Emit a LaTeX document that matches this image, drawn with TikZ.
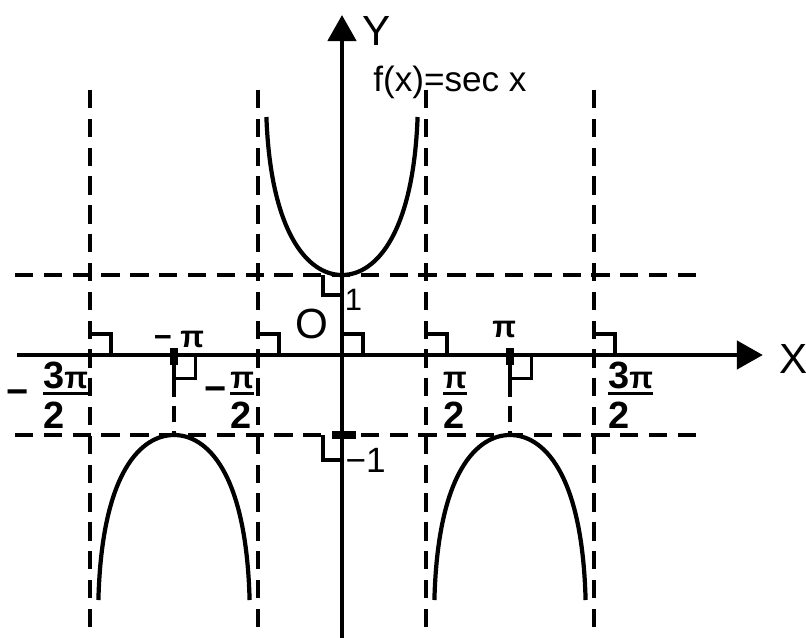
\documentclass[tikz,border=0pt]{standalone}
\usepackage{fontspec}
\setmainfont{Liberation Sans}
\usetikzlibrary{arrows.meta}
\newcommand{\smallpi}{{\fontsize{22}{22}\selectfont π}}
\newcommand{\fracstack}[2]{\vtop{\hbox{#1}\kern2.5pt\hrule height 2pt\kern5.3pt\hbox{#2}}}

\begin{document}
\begin{tikzpicture}[x=2.1cm, y=2cm,
  axis/.style={line width=3pt, -{Triangle[length=18.5pt, width=20pt]}},
  guide/.style={line width=2.7pt, dash pattern=on 13pt off 7.5pt},
  thinguide/.style={line width=2.3pt, dash pattern=on 12pt off 6pt},
  branch/.style={line width=3pt},
  corner/.style={line width=2.2pt},
  bigtick/.style={line width=5pt},
  big/.style={font=\fontsize{30}{36}\selectfont, inner sep=0pt},
  fn/.style={font=\fontsize{25}{30}\selectfont, inner sep=0pt},
  num/.style={font=\fontsize{22}{26}\selectfont, inner sep=0pt},
  fracnum/.style={font=\bfseries\fontsize{27}{30}\selectfont, inner sep=0pt}]
  \useasboundingbox (-4.0714,-3.525) rectangle (5.5238,4.4375);
  \fill[white] (-4.0714,-3.525) rectangle (5.5238,4.4375);

  % guide lines
  \foreach \k in {-3,-1,1,3}
    \draw[guide] (\k,3.3125) -- (\k,-3.525);
  \draw[guide] (-3.893,1) -- (4.26,1);
  \draw[guide] (-3.893,-1) -- (4.26,-1);
  \foreach \k in {-2,2}
    \draw[thinguide] (\k,0) -- (\k,-1);

  % axes
  \coordinate (xl) at (-3.87,0);
  \coordinate (xr) at (5.01,0);
  \coordinate (yb) at (0,-3.6);
  \coordinate (yt) at (0,4.25);
  \draw[axis] (xl) -- (xr);
  \draw[axis] (yb) -- (yt);

  % right-angle marks
  \foreach \k in {-3,-1,0,1,3}
    \draw[corner] (\k,0.375) -- (\k,0.2625) -- (\k+0.25,0.2625) -- (\k+0.25,0);
  \foreach \k in {-2,2} {
    \draw[corner] (\k,0) -- (\k,-0.29) -- (\k+0.26,-0.29) -- (\k+0.26,0);
    \draw[bigtick] (\k,0.0875) -- (\k,-0.125);
  }
  \draw[corner] (-0.226,1) -- (-0.226,0.75) -- (0,0.75);
  \draw[corner] (-0.226,-1) -- (-0.226,-1.3125) -- (0,-1.3125);
  \draw[bigtick] (-0.12,-1) -- (0.165,-1);

  % branches of sec x
  \draw[branch] (-0.9,2.975) .. controls (-0.85,1.55) and (-0.42,1) .. (0,1)
    .. controls (0.42,1) and (0.85,1.55) .. (0.9,2.975);
  \foreach \c in {-2,2}
    \draw[branch] (\c-0.9,-3.0625) .. controls (\c-0.86,-1.44) and (\c-0.38,-1) .. (\c,-1)
      .. controls (\c+0.38,-1) and (\c+0.86,-1.44) .. (\c+0.9,-3.0625);

  % labels
  \node[big, anchor=base west] (ylab) at (0.238,3.875) {Y};
  \node[big, anchor=base west] (xlab) at (5.2,-0.225) {X};
  \node[fn, anchor=base west] (flab) at (0.369,3.3) {f(x)=sec x};
  \node[big, anchor=base west] (olab) at (-0.56,0.2125) {O};
  \node[num, anchor=base west] (onelab) at (0.03,0.5625) {1};
  \node[num, font=\fontsize{25}{30}\selectfont, anchor=base west] (monelab) at (0.04,-1.4625) {−1};
  \node[fracnum, font=\bfseries\fontsize{22}{22}\selectfont, anchor=base] (mpilab) at (-1.94,0.1) {− π};
  \node[fracnum, font=\bfseries\fontsize{22}{22}\selectfont, anchor=base] (pilab) at (1.93,0.225) {π};

  \node[fracnum, anchor=base] (mthree) at (-3.866,-0.6125) {−};
  \node[fracnum, anchor=base west] (fthree) at (-3.56,-0.4125) {\fracstack{3\smallpi}{2}};
  \node[fracnum, anchor=base] (mone) at (-1.5,-0.575) {−};
  \node[fracnum, anchor=base west] (fone) at (-1.333,-0.4125) {\fracstack{\smallpi}{2}};
  \node[fracnum, anchor=base west] (pone) at (1.2,-0.4125) {\fracstack{\smallpi}{2}};
  \node[fracnum, anchor=base west] (pthree) at (3.167,-0.4125) {\fracstack{3\smallpi}{2}};
\end{tikzpicture}
\end{document}
